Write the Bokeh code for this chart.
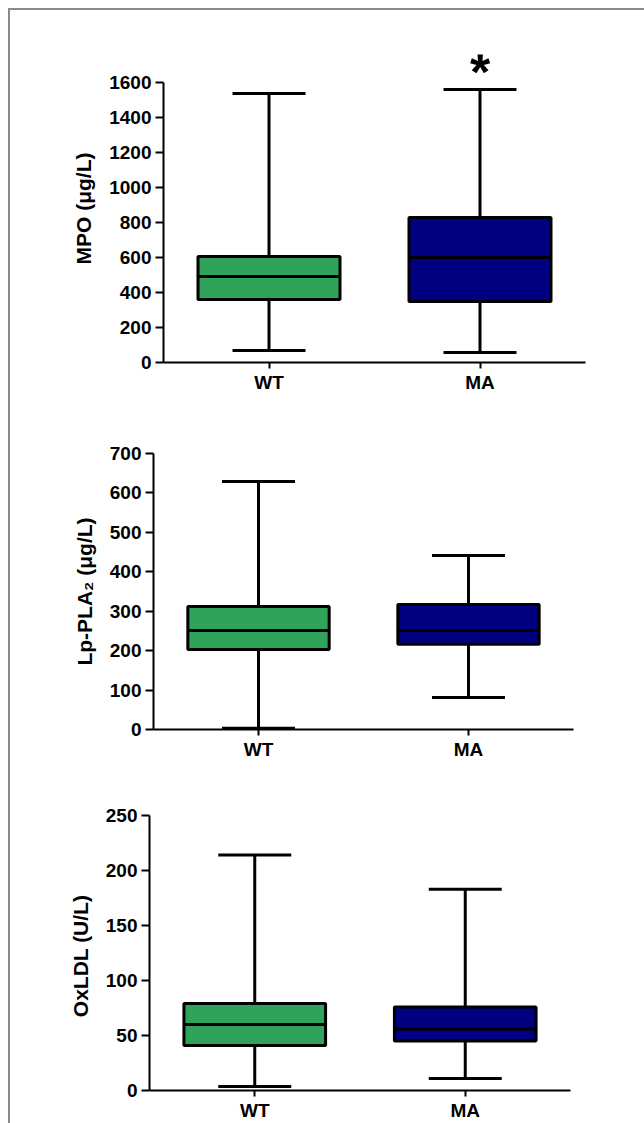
from bokeh.plotting import figure
from bokeh.models import FactorRange, Range1d, FixedTicker, ColumnDataSource, Whisker, TeeHead
from bokeh.layouts import column
from bokeh.embed import file_html
from bokeh.resources import INLINE
from bokeh.core.properties import value

groups = ["WT", "MA"]
colors = ["#2FA35A", "#000080"]

# MPO (ug/L)
mpo_low = [69, 57]
mpo_q1 = [360, 349]
mpo_med = [491, 600]
mpo_q3 = [606, 829]
mpo_high = [1537, 1560]
mpo_ticks = [0, 200, 400, 600, 800, 1000, 1200, 1400, 1600]

# Lp-PLA2 (ug/L)
lp_low = [3, 81]
lp_q1 = [203, 216]
lp_med = [251, 251]
lp_q3 = [312, 317]
lp_high = [629, 441]
lp_ticks = [0, 100, 200, 300, 400, 500, 600, 700]

# OxLDL (U/L)
ox_low = [3.6, 11]
ox_q1 = [41, 45]
ox_med = [60, 56]
ox_q3 = [79, 76]
ox_high = [214, 183]
ox_ticks = [0, 50, 100, 150, 200, 250]

sig_groups = ["MA"]
sig_text = ["*"]
sig_y = [1660]

FONT = "Liberation Sans"


def panel(label, low, q1, med, q3, high, ticks, y_end, height, bl, br, bt, bb):
    src = ColumnDataSource(dict(grp=groups, low=low, q1=q1, med=med, q3=q3,
                                high=high, color=colors))
    p = figure(width=634, height=height, x_range=FactorRange(factors=groups, range_padding=0),
               y_range=Range1d(0, y_end), output_backend="svg", toolbar_location=None,
               min_border_left=bl, min_border_right=br, min_border_top=bt, min_border_bottom=bb)
    p.frame_align = False
    p.outline_line_color = None
    p.grid.visible = False
    p.background_fill_color = "white"
    p.border_fill_color = "white"

    lw = 3
    up = Whisker(source=src, base="grp", lower="q3", upper="high", line_width=lw,
                 line_color="black", lower_head=None,
                 upper_head=TeeHead(size=73, line_width=lw, line_color="black"))
    dn = Whisker(source=src, base="grp", lower="low", upper="q1", line_width=lw,
                 line_color="black", upper_head=None,
                 lower_head=TeeHead(size=73, line_width=lw, line_color="black"))
    p.add_layout(up)
    p.add_layout(dn)
    p.vbar(x="grp", bottom="q1", top="q3", width=0.673, fill_color="color",
           line_color="black", line_width=lw, source=src)
    p.vbar(x="grp", bottom="med", top="med", width=0.673, fill_alpha=0,
           line_color="black", line_width=lw, source=src)

    for ax in (p.xaxis[0], p.yaxis[0]):
        ax.axis_line_width = 2
        ax.axis_line_color = "black"
        ax.major_tick_line_width = 2
        ax.major_tick_line_color = "black"
        ax.major_tick_in = 0
        ax.minor_tick_line_color = None
        ax.major_label_text_font = FONT
        ax.major_label_text_font_style = "bold"
        ax.major_label_text_font_size = "19px"
        ax.major_label_text_color = "black"
    p.xaxis.major_tick_out = 6
    p.xaxis.major_label_standoff = 3
    p.yaxis.major_tick_out = 8
    p.yaxis.major_label_standoff = 4
    p.yaxis.ticker = FixedTicker(ticks=ticks)
    p.yaxis.bounds = (ticks[0], ticks[-1])
    p.yaxis.axis_label = label
    p.yaxis.axis_label_text_font = FONT
    p.yaxis.axis_label_text_font_style = "bold"
    p.yaxis.axis_label_text_font_size = "21px"
    p.yaxis.axis_label_text_color = "black"
    p.yaxis.axis_label_standoff = 11
    return p


p1 = panel("MPO (μg/L)", mpo_low, mpo_q1, mpo_med, mpo_q3, mpo_high, mpo_ticks,
           1760, 398, 153, 59, 44, 46)
p1.text(x=sig_groups, y=sig_y, text=sig_text, text_font=value(FONT),
        text_font_style="bold", text_font_size="52px", text_align="center",
        text_baseline="alphabetic", text_color="black")

p2 = panel("Lp-PLA₂ (μg/L)", lp_low, lp_q1, lp_med, lp_q3, lp_high, lp_ticks,
           700, 360, 143, 71, 45, 39)

p3 = panel("OxLDL  (U/L)", ox_low, ox_q1, ox_med, ox_q3, ox_high, ox_ticks,
           250, 355, 139, 74, 47, 30)

layout = column(p1, p2, p3, spacing=0,
                styles={"margin-top": "8px", "margin-left": "8px",
                        "border-top": "2px solid #8a8a8a", "border-left": "2px solid #8a8a8a"})

open("out.html", "w").write(file_html(layout, INLINE))
